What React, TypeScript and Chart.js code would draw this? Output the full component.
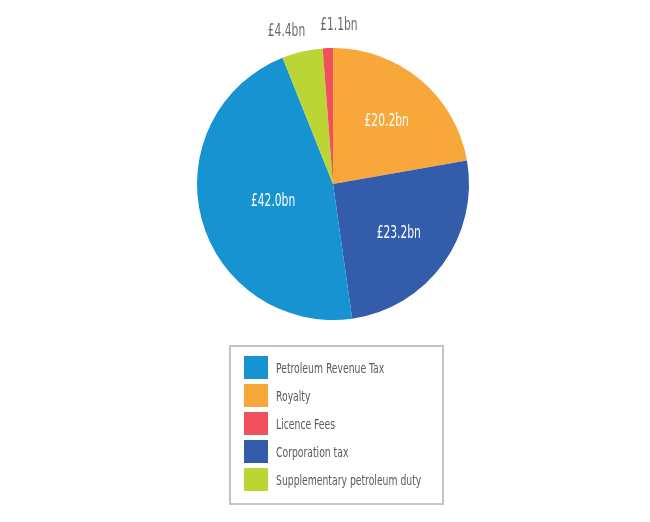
import React, { useRef, useEffect } from 'react';
import Chart from 'chart.js/auto';

// slices, clockwise from 12 o'clock
const categories = [
  'Royalty',
  'Corporation tax',
  'Petroleum Revenue Tax',
  'Supplementary petroleum duty',
  'Licence Fees',
];
const values = [20.2, 23.2, 42.0, 4.4, 1.1];
const colors = ['#f8a73a', '#335cab', '#1793d1', '#bad534', '#ef505c'];

// order used in the legend box
const legendOrder = [
  'Petroleum Revenue Tax',
  'Royalty',
  'Licence Fees',
  'Corporation tax',
  'Supplementary petroleum duty',
];

const FONT = '"DejaVu Sans Condensed", "DejaVu Sans", sans-serif';
// the original uses a tall, very narrow face: squeeze text horizontally
const SQUEEZE = 0.7;

const fmt = (v: number) => `£${v.toFixed(1)}bn`;

const drawSqueezed = (ctx: CanvasRenderingContext2D, text: string, cx: number, cy: number) => {
  ctx.save();
  ctx.translate(cx, cy);
  ctx.scale(SQUEEZE, 1);
  ctx.fillText(text, 0, 0);
  ctx.restore();
};

// value labels: inside at the sector centroid, small slices outside the rim
const sliceLabels = {
  id: 'sliceLabels',
  afterDatasetsDraw(chart: any) {
    const { ctx } = chart;
    const meta = chart.getDatasetMeta(0);
    const total = values.reduce((a, b) => a + b, 0);
    let outsideIdx = 0;
    ctx.save();
    ctx.textAlign = 'center';
    ctx.textBaseline = 'middle';
    ctx.font = `17px ${FONT}`;
    meta.data.forEach((arc: any, i: number) => {
      const { x, y, startAngle, endAngle, outerRadius } = arc.getProps(
        ['x', 'y', 'startAngle', 'endAngle', 'outerRadius'],
        true
      );
      const mid = (startAngle + endAngle) / 2;
      const theta = endAngle - startAngle;
      const text = fmt(values[i]);
      if (values[i] / total > 0.08) {
        const d = (2 * outerRadius * Math.sin(theta / 2)) / (3 * (theta / 2));
        ctx.fillStyle = '#ffffff';
        drawSqueezed(ctx, text, x + d * Math.cos(mid), y + d * Math.sin(mid) + 2);
      } else {
        // spread the two small labels apart
        const d = outerRadius + (outsideIdx === 0 ? 21 : 24);
        const nudge = outsideIdx === 0 ? -11 : 12;
        outsideIdx++;
        ctx.fillStyle = '#6a6a6a';
        drawSqueezed(ctx, text, x + d * Math.cos(mid) + nudge, y + d * Math.sin(mid) + 1);
      }
    });
    ctx.restore();
  },
};

const App: React.FC = () => {
  const chartRef = useRef<HTMLCanvasElement>(null);
  const chartInstance = useRef<Chart | null>(null);

  useEffect(() => {
    if (!chartRef.current) return;
    if (chartInstance.current) chartInstance.current.destroy();

    chartInstance.current = new Chart(chartRef.current, {
      type: 'pie',
      data: {
        labels: categories,
        datasets: [
          {
            data: values,
            backgroundColor: colors,
            borderWidth: 0,
          },
        ],
      },
      options: {
        responsive: false,
        animation: false,
        layout: { padding: { top: 48, bottom: 202, left: 197, right: 181 } },
        plugins: {
          legend: { display: false },
          tooltip: { enabled: false },
        },
      },
      plugins: [sliceLabels],
    });

    return () => {
      if (chartInstance.current) {
        chartInstance.current.destroy();
        chartInstance.current = null;
      }
    };
  }, []);

  return (
    <div style={{ position: 'absolute', top: 0, left: 0, width: 650, height: 522, background: '#fff' }}>
      <canvas ref={chartRef} width={650} height={522} style={{ display: 'block' }}></canvas>
      <div
        style={{
          position: 'absolute',
          left: 229,
          top: 345,
          width: 211,
          height: 156,
          border: '2px solid #c4c4c4',
          boxSizing: 'content-box',
          fontFamily: FONT,
          fontSize: 14,
          color: '#5a5a5a',
        }}
      >
        {legendOrder.map((name, k) => (
          <div
            key={name}
            style={{
              position: 'absolute',
              left: 13,
              top: 9 + k * 28,
              height: 23,
              display: 'flex',
              alignItems: 'center',
              whiteSpace: 'nowrap',
            }}
          >
            <span
              style={{
                display: 'inline-block',
                width: 24,
                height: 23,
                background: colors[categories.indexOf(name)],
                marginRight: 8,
              }}
            ></span>
            <span
              style={{
                display: 'inline-block',
                transform: `scaleX(${SQUEEZE * 1.05})`,
                transformOrigin: 'left center',
              }}
            >
              {name}
            </span>
          </div>
        ))}
      </div>
    </div>
  );
};

export default App;
